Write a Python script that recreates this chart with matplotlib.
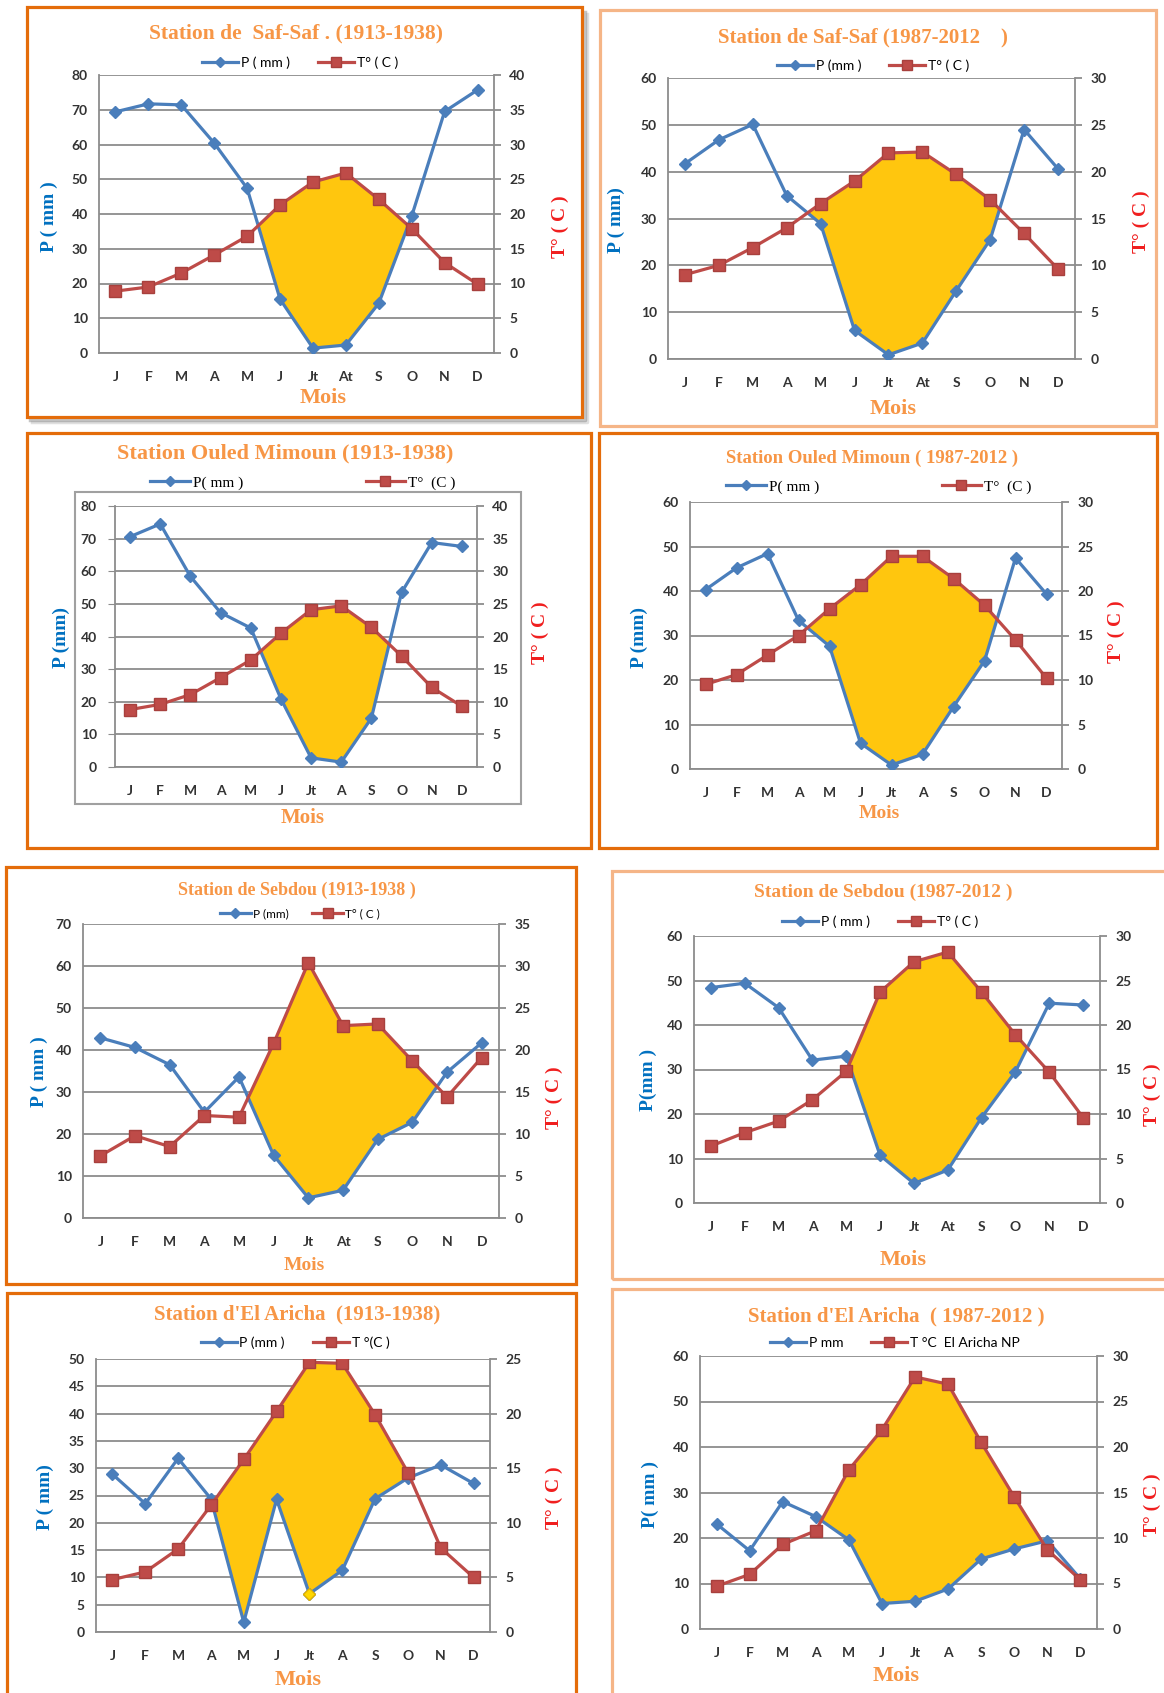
import matplotlib.pyplot as plt
import numpy as np
from matplotlib.lines import Line2D
from matplotlib.patches import Rectangle

# page size in pixels (dpi 100)
W, H = 1164, 1693

months_a = ["J", "F", "M", "A", "M", "J", "Jt", "At", "S", "O", "N", "D"]
months_b = ["J", "F", "M", "A", "M", "J", "Jt", "A", "S", "O", "N", "D"]

# Saf-Saf
p_safsaf_old = [69.4, 71.7, 71.4, 60.4, 47.4, 15.5, 1.4, 2.3, 14.3, 39.4, 69.5, 75.7]
t_safsaf_old = [8.9, 9.5, 11.5, 14.1, 16.8, 21.3, 24.6, 25.9, 22.1, 17.9, 13.0, 9.9]
p_safsaf_new = [41.7, 46.8, 50.1, 34.9, 28.9, 6.1, 0.9, 3.4, 14.6, 25.5, 49.0, 40.6]
t_safsaf_new = [9.0, 10.0, 11.9, 14.0, 16.6, 19.0, 22.0, 22.1, 19.7, 17.0, 13.4, 9.6]

# Ouled Mimoun
p_mimoun_old = [70.6, 74.5, 58.4, 47.3, 42.6, 20.9, 2.8, 1.5, 15.0, 53.5, 68.8, 67.6]
t_mimoun_old = [8.8, 9.6, 11.1, 13.7, 16.4, 20.5, 24.1, 24.7, 21.4, 17.0, 12.2, 9.3]
p_mimoun_new = [40.3, 45.2, 48.4, 33.4, 27.6, 5.8, 0.9, 3.3, 14.0, 24.3, 47.4, 39.3]
t_mimoun_new = [9.5, 10.6, 12.8, 15.0, 18.0, 20.7, 23.9, 23.9, 21.4, 18.4, 14.5, 10.2]

# Sebdou
p_sebdou_old = [42.9, 40.6, 36.5, 25.2, 33.6, 14.9, 4.8, 6.6, 18.7, 22.8, 34.7, 41.7]
t_sebdou_old = [7.4, 9.8, 8.5, 12.2, 12.0, 20.8, 30.4, 22.9, 23.1, 18.7, 14.4, 19.1]
p_sebdou_new = [48.4, 49.4, 43.9, 32.1, 33.0, 10.7, 4.4, 7.4, 19.2, 29.5, 44.9, 44.5]
t_sebdou_new = [6.4, 7.9, 9.2, 11.6, 14.8, 23.7, 27.1, 28.2, 23.7, 18.9, 14.7, 9.6]

# El Aricha
p_aricha_old = [28.9, 23.5, 31.8, 24.4, 1.8, 24.3, 7.0, 11.3, 24.4, 28.2, 30.6, 27.2]
t_aricha_old = [4.8, 5.5, 7.6, 11.6, 15.8, 20.2, 24.7, 24.6, 19.9, 14.6, 7.7, 5.0]
p_aricha_new = [23.1, 17.2, 28.0, 24.7, 19.6, 5.6, 6.1, 8.8, 15.4, 17.6, 19.4, 11.0]
t_aricha_new = [4.7, 6.0, 9.3, 10.8, 17.5, 21.9, 27.7, 26.9, 20.5, 14.5, 8.7, 5.4]

BLUE = "#4A7EBB"
RED = "#BE4B48"
FILL = "#FFC60E"
GRID = "#8C8C8C"
ORANGE = "#F79646"
DARK_BORDER = "#E46C0A"
LIGHT_BORDER = "#F5B587"
TICK_FONT = "Lato"
SERIF = "Liberation Serif"


def fx(px):
    return px / W


def fy(py):
    return 1 - py / H


def box(fig, x0, y0, x1, y1, color, lw, **kw):
    r = Rectangle((fx(x0), fy(y1)), (x1 - x0) / W, (y1 - y0) / H,
                  transform=fig.transFigure, fill=False, ec=color, lw=lw, **kw)
    fig.add_artist(r)


def shadow(fig, x0, y0, x1, y1, off=5):
    # soft grey drop shadow along the right and bottom edges
    for k, a in ((off, 0.25), (off - 2, 0.45)):
        fig.add_artist(Line2D([fx(x1 + k), fx(x1 + k), fx(x0 + k)],
                              [fy(y0 + k + 2), fy(y1 + k), fy(y1 + k)],
                              transform=fig.transFigure, color="#808080",
                              lw=2.5, alpha=a, zorder=0))


def draw_panel(fig, p, t, months, cfg):
    x0, y0, x1, y1 = cfg["axes"]
    pmax, pstep = cfg["pmax"], cfg["pstep"]

    # frame of the chart block
    if cfg.get("shadow"):
        shadow(fig, *cfg["border"])
    box(fig, *cfg["border"], cfg["border_color"], 2.3, zorder=1)
    if cfg.get("plot_frame"):
        box(fig, *cfg["plot_frame"], "#A0A0A0", 1.5, zorder=1)

    ax = fig.add_axes([fx(x0), fy(y1), (x1 - x0) / W, (y1 - y0) / H])
    x = np.arange(12)
    pa = np.array(p)
    t2 = 2 * np.array(t)

    ax.set_xlim(-0.5, 11.5)
    ax.set_ylim(0, pmax)
    ax.set_yticks(np.arange(0, pmax + 1, pstep))
    ax.set_xticks(x)
    ax.set_xticklabels(months)
    ax.yaxis.grid(True, color=GRID, lw=1.3)
    ax.set_axisbelow(True)

    # dry season: where 2T lies above P
    ax.fill_between(x, pa, t2, where=t2 >= pa, interpolate=True,
                    color=FILL, lw=0, zorder=2)
    ax.plot(x, pa, color=BLUE, lw=2.3, marker="D", ms=6, zorder=4)
    if cfg.get("odd_marker") is not None:
        i = cfg["odd_marker"]
        ax.plot(x[i], pa[i], ls="none", marker="D", ms=6, mfc="#FFD700",
                mec="#E0B000", zorder=5)

    ax2 = ax.twinx()
    ax2.set_ylim(0, pmax / 2)
    ax2.set_yticks(np.arange(0, pmax / 2 + 1, 5))
    ax2.plot(x, t, color=RED, lw=2.3, marker="s", ms=8, mec="#A8403D", zorder=4)

    for s in ("top", "right"):
        ax.spines[s].set_visible(False)
    for s in ("top", "left", "bottom"):
        ax2.spines[s].set_visible(False)
    for s in ("left", "bottom"):
        ax.spines[s].set_color(GRID)
        ax.spines[s].set_linewidth(1.3)
    ax2.spines["right"].set_color(GRID)
    ax2.spines["right"].set_linewidth(1.3)

    ax.tick_params(axis="y", length=cfg.get("left_tick", 0), color=GRID, pad=8,
                   labelsize=10, labelcolor="#333333")
    ax.tick_params(axis="x", length=0, pad=13, labelsize=10, labelcolor="#333333")
    ax2.tick_params(axis="y", length=5, color=GRID, width=1.3, pad=6,
                    labelsize=10, labelcolor="#333333")
    for lab in ax.get_xticklabels() + ax.get_yticklabels() + ax2.get_yticklabels():
        lab.set_family(TICK_FONT)
        lab.set_fontweight("bold")

    # titles and axis captions
    tx, ty = cfg["title_xy"]
    fig.text(fx(tx), fy(ty), cfg["title"], ha="center", va="center",
             family=SERIF, weight="bold", fontsize=cfg["title_size"], color=ORANGE)
    mx, my = cfg["mois_xy"]
    fig.text(fx(mx), fy(my), "Mois", ha="center", va="center", family=SERIF,
             weight="bold", fontsize=cfg["mois_size"], color=ORANGE)
    px_, py_ = cfg["plabel_xy"]
    fig.text(fx(px_), fy(py_), cfg["plabel"], ha="center", va="center",
             rotation=90, family=SERIF, weight="bold", fontsize=14, color="#0070C0")
    qx, qy = cfg["tlabel_xy"]
    fig.text(fx(qx), fy(qy), cfg["tlabel"], ha="center", va="center",
             rotation=90, family=SERIF, weight="bold", fontsize=14, color="#F01E1E")

    handles = [
        Line2D([], [], color=BLUE, lw=2.3, marker="D", ms=5),
        Line2D([], [], color=RED, lw=2.3, marker="s", ms=7, mec="#A8403D"),
    ]
    lx, ly = cfg["legend_xy"]
    leg_font = cfg.get("legend_font", TICK_FONT)
    fig.legend(handles, cfg["legend"], loc="center",
               bbox_to_anchor=(fx(lx), fy(ly)), ncol=2, frameon=False,
               handlelength=2.6, handletextpad=0.2,
               columnspacing=cfg.get("legend_gap", 2.0),
               prop={"family": leg_font, "size": cfg.get("legend_size", 10)})


panels = [
    (p_safsaf_old, t_safsaf_old, months_a, dict(
        axes=(99, 75, 494, 353), border=(27, 7, 582, 417),
        border_color=DARK_BORDER, shadow=True, pmax=80, pstep=10,
        title="Station de  Saf-Saf . (1913-1938)", title_xy=(296, 33), title_size=15.5,
        legend=["P ( mm )", "T° ( C )"], legend_xy=(300, 63),
        plabel="P ( mm )", plabel_xy=(49, 217),
        tlabel="T° ( C )", tlabel_xy=(560, 227),
        mois_xy=(323, 398), mois_size=16)),
    (p_safsaf_new, t_safsaf_new, months_a, dict(
        axes=(668, 78, 1075, 359), border=(600, 10, 1156, 426),
        border_color=LIGHT_BORDER, pmax=60, pstep=10,
        title="Station de Saf-Saf (1987-2012    )", title_xy=(863, 37), title_size=15,
        legend=["P (mm )", "T° ( C )"], legend_xy=(873, 66),
        plabel="P ( mm)", plabel_xy=(616, 220),
        tlabel="T° ( C )", tlabel_xy=(1141, 222),
        mois_xy=(893, 409), mois_size=16)),
    (p_mimoun_old, t_mimoun_old, months_b, dict(
        axes=(115, 506, 477, 767), border=(27, 433, 591, 848),
        border_color=DARK_BORDER, plot_frame=(75, 492, 521, 804), left_tick=5,
        pmax=80, pstep=10,
        title="Station Ouled Mimoun (1913-1938)", title_xy=(285, 453), title_size=16,
        legend=["P( mm )", "T°  (C )"], legend_xy=(303, 483), legend_gap=8.0,
        legend_font=SERIF, legend_size=11,
        plabel="P (mm)", plabel_xy=(61, 637),
        tlabel="T° ( C )", tlabel_xy=(540, 633),
        mois_xy=(303, 818), mois_size=15)),
    (p_mimoun_new, t_mimoun_new, months_b, dict(
        axes=(690, 502, 1062, 769), border=(599, 433, 1157, 848),
        border_color=DARK_BORDER, pmax=60, pstep=10,
        title="Station Ouled Mimoun ( 1987-2012 )", title_xy=(872, 458), title_size=13.5,
        legend=["P( mm )", "T°  (C )"], legend_xy=(879, 487), legend_gap=8.0,
        legend_font=SERIF, legend_size=11,
        plabel="P (mm)", plabel_xy=(639, 637),
        tlabel="T° ( C )", tlabel_xy=(1116, 632),
        mois_xy=(879, 814), mois_size=14)),
    (p_sebdou_old, t_sebdou_old, months_a, dict(
        axes=(83, 924, 499, 1218), border=(6, 867, 576, 1284),
        border_color=DARK_BORDER, pmax=70, pstep=10,
        title="Station de Sebdou (1913-1938 )", title_xy=(297, 890), title_size=13,
        legend=["P (mm)", "T° ( C )"], legend_xy=(300, 914), legend_size=8.5,
        plabel="P ( mm )", plabel_xy=(39, 1072),
        tlabel="T° ( C )", tlabel_xy=(554, 1098),
        mois_xy=(304, 1265), mois_size=14)),
    (p_sebdou_new, t_sebdou_new, months_a, dict(
        axes=(694, 936, 1100, 1203), border=(612, 871, 1175, 1279),
        border_color=LIGHT_BORDER, pmax=60, pstep=10,
        title="Station de Sebdou (1987-2012 )", title_xy=(883, 892), title_size=14,
        legend=["P ( mm )", "T° ( C )"], legend_xy=(880, 922),
        plabel="P(mm )", plabel_xy=(648, 1080),
        tlabel="T° ( C )", tlabel_xy=(1152, 1095),
        mois_xy=(903, 1260), mois_size=16)),
    (p_aricha_old, t_aricha_old, months_b, dict(
        axes=(96, 1359, 490, 1632), border=(7, 1293, 576, 1705),
        border_color=DARK_BORDER, pmax=50, pstep=5, odd_marker=6,
        title="Station d'El Aricha  (1913-1938)", title_xy=(297, 1314), title_size=15,
        legend=["P (mm )", "T °(C )"], legend_xy=(295, 1343),
        plabel="P ( mm)", plabel_xy=(45, 1497),
        tlabel="T° ( C )", tlabel_xy=(554, 1498),
        mois_xy=(298, 1680), mois_size=16)),
    (p_aricha_new, t_aricha_new, months_b, dict(
        axes=(700, 1356, 1097, 1629), border=(612, 1289, 1175, 1705),
        border_color=LIGHT_BORDER, pmax=60, pstep=10,
        title="Station d'El Aricha  ( 1987-2012 )", title_xy=(896, 1316), title_size=15,
        legend=["P mm", "T °C  El Aricha NP"], legend_xy=(895, 1343),
        plabel="P( mm )", plabel_xy=(650, 1495),
        tlabel="T° ( C )", tlabel_xy=(1152, 1505),
        mois_xy=(896, 1676), mois_size=16)),
]

fig = plt.figure(figsize=(W / 100, H / 100), dpi=100)
fig.patch.set_facecolor("white")

for p, t, months, cfg in panels:
    draw_panel(fig, p, t, months, cfg)

fig.savefig("out.png", dpi=100, facecolor="white")
